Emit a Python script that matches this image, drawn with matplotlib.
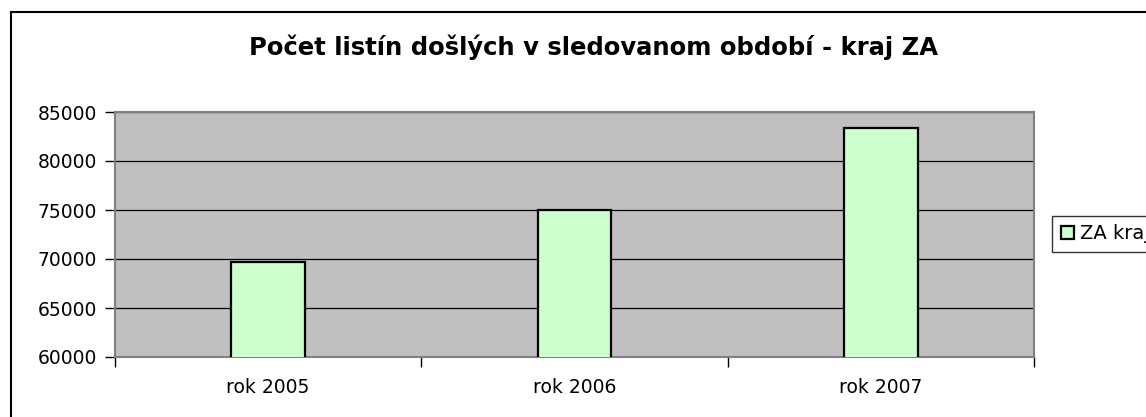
import matplotlib.pyplot as plt
from matplotlib.patches import Rectangle

plt.rcParams['font.family'] = ['DejaVu Sans']

categories = ['rok 2005', 'rok 2006', 'rok 2007']
values = [69700, 75000, 83350]
series_name = 'ZA kraj'
title = 'Počet listín došlých v sledovanom období - kraj ZA'

fig = plt.figure(figsize=(11.46, 4.17), dpi=100)
W, H = 1146, 417

# outer chart border (runs off the right and bottom edge)
fig.patches.append(Rectangle((11 / W, -0.05), 1.1, 1 - 12 / H + 0.05,
                             transform=fig.transFigure, fill=False,
                             edgecolor='black', linewidth=1.5))

ax = fig.add_axes([115 / W, 1 - 357 / H, (1034 - 115) / W, (357 - 112) / H])
ax.set_facecolor('#c0c0c0')
for s in ax.spines.values():
    s.set_color('#808080')
    s.set_linewidth(1.5)

x = range(len(categories))
bars = ax.bar(x, values, width=0.24, color='#ccffcc', edgecolor='black',
              linewidth=1.6, label=series_name, zorder=3)

ax.set_ylim(60000, 85000)
ax.set_yticks(range(60000, 85001, 5000))
ax.yaxis.grid(True, color='black', linewidth=0.9, zorder=1)
ax.set_xlim(-0.5, len(categories) - 0.5)
ax.set_xticks(list(x))
ax.set_xticklabels(categories)
ax.set_xticks([i - 0.5 for i in range(len(categories) + 1)], minor=True)
ax.tick_params(axis='x', which='major', length=0, pad=15, labelsize=13.5)
ax.tick_params(axis='x', which='minor', length=7, width=1, color='black')
ax.tick_params(axis='y', length=7, width=1, color='black', labelsize=13.5, pad=6)

fig.text(593 / W, 1 - 47 / H, title, ha='center', va='center',
         fontsize=17.5, fontweight='bold')

leg = fig.legend(handles=[bars], labels=[series_name], loc='center left',
                 bbox_to_anchor=(1052 / W, 1 - 234 / H), frameon=True,
                 fancybox=False, edgecolor='black', fontsize=14,
                 handlelength=0.7, handleheight=0.7, handletextpad=0.3,
                 borderpad=0.45, borderaxespad=0)
leg.get_frame().set_linewidth(1.0)

fig.savefig('out.png', dpi=100)
